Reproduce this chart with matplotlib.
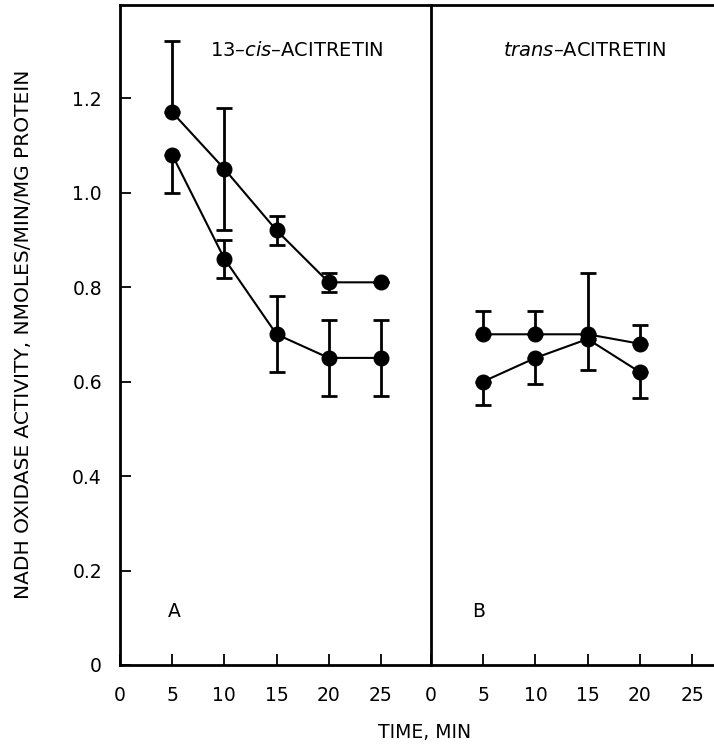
import numpy as np
import matplotlib
matplotlib.use("Agg")
import matplotlib.pyplot as plt

plt.rcParams['font.family'] = ['DejaVu Sans']
plt.rcParams['mathtext.fontset'] = 'dejavusans'

# Panel A: 13-cis-acitretin
time_a = [5, 10, 15, 20, 25]
a_upper = [1.17, 1.05, 0.92, 0.81, 0.81]
a_upper_lo = [0.0, 0.13, 0.03, 0.02, 0.0]
a_upper_hi = [0.15, 0.13, 0.03, 0.02, 0.0]
a_lower = [1.08, 0.86, 0.70, 0.65, 0.65]
a_lower_lo = [0.08, 0.04, 0.08, 0.08, 0.08]
a_lower_hi = [0.0, 0.04, 0.08, 0.08, 0.08]

# Panel B: trans-acitretin
time_b = [5, 10, 15, 20]
b_upper = [0.70, 0.70, 0.70, 0.68]
b_upper_lo = [0.0, 0.0, 0.0, 0.0]
b_upper_hi = [0.05, 0.05, 0.13, 0.04]
b_lower = [0.60, 0.65, 0.69, 0.62]
b_lower_lo = [0.05, 0.055, 0.065, 0.055]
b_lower_hi = [0.0, 0.0, 0.0, 0.0]

xticks = [0, 5, 10, 15, 20, 25]
yticks = [0, 0.2, 0.4, 0.6, 0.8, 1.0, 1.2]

fig = plt.figure(figsize=(7.14, 7.51), dpi=100)
axA = fig.add_axes([120/714, 1 - 665/751, (431-120)/714, 660/751])
axB = fig.add_axes([431/714, 1 - 665/751, (714-431)/714, 660/751])
axB.patch.set_alpha(0)


def series(ax, x, y, lo, hi):
    # error bars first, markers on top so zero-length caps stay hidden
    ax.errorbar(x, y, yerr=[lo, hi], fmt='none', ecolor='black',
                elinewidth=2, capsize=6, capthick=2, zorder=2)
    ax.plot(x, y, color='black', marker='o', markersize=10.5, linewidth=1.5,
            zorder=3)


series(axA, time_a, a_upper, a_upper_lo, a_upper_hi)
series(axA, time_a, a_lower, a_lower_lo, a_lower_hi)
series(axB, time_b, b_upper, b_upper_lo, b_upper_hi)
series(axB, time_b, b_lower, b_lower_lo, b_lower_hi)

for ax in (axA, axB):
    ax.set_ylim(0, 1.397)
    ax.set_xticks(xticks)
    ax.set_xticklabels([str(t) for t in xticks])
    ax.tick_params(axis='x', direction='in', length=8, width=1.3, pad=15,
                   labelsize=13.5)
    for s in ax.spines.values():
        s.set_linewidth(2)

axA.set_xlim(0, 29.8)
axB.set_xlim(0, 27.1)
axA.set_yticks(yticks)
axA.set_yticklabels(['0', '0.2', '0.4', '0.6', '0.8', '1.0', '1.2'])
axA.tick_params(axis='y', direction='in', length=8, width=1.3, pad=13,
                labelsize=13.5)
axB.set_yticks([])
axB.spines['left'].set_visible(False)
axB.spines['right'].set_visible(False)

axA.text(16.9, 1.30, '13\u2013$\\mathit{cis}$\u2013ACITRETIN', ha='center',
         va='center', fontsize=14)
axB.text(14.65, 1.30, '$\\mathit{trans}$\u2013ACITRETIN', ha='center',
         va='center', fontsize=14)
axA.text(5.2, 0.113, 'A', ha='center', va='center', fontsize=13.5)
axB.text(4.6, 0.113, 'B', ha='center', va='center', fontsize=13.5)

fig.text(24/714, 1 - 334/751, 'NADH OXIDASE ACTIVITY, NMOLES/MIN/MG PROTEIN',
         rotation=90, ha='center', va='center', fontsize=14.5)
fig.text(425/714, 1 - 732/751, 'TIME, MIN', ha='center', va='center',
         fontsize=13.5)

fig.savefig('out.png', dpi=100)
